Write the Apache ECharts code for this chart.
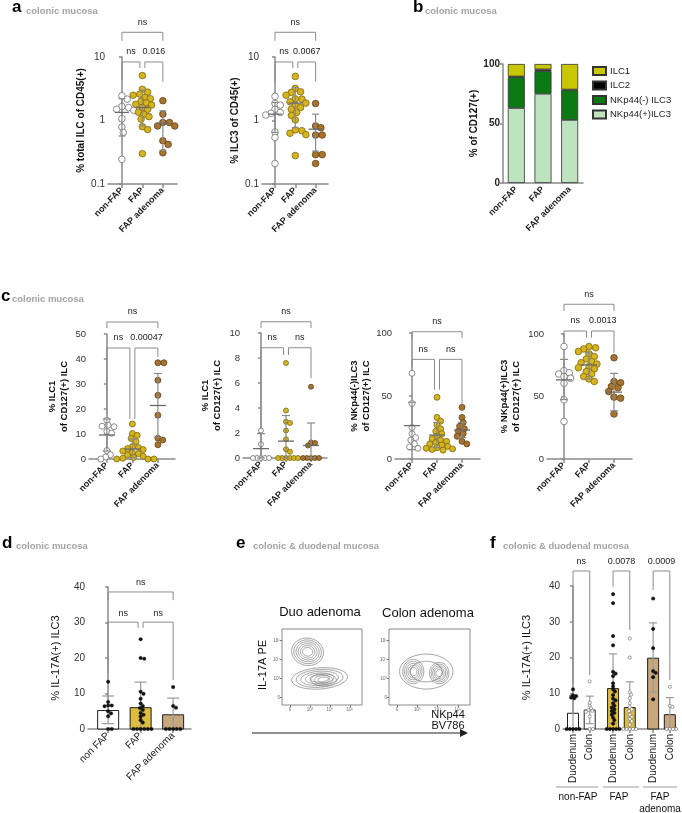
<!DOCTYPE html>
<html>
<head>
<meta charset="utf-8">
<script src="https://cdn.jsdelivr.net/npm/echarts@6/dist/echarts.min.js"></script>
<style>
  html, body { margin: 0; padding: 0; background: #fff; }
  #chart { width: 682px; height: 813px; }
</style>
</head>
<body>
<div id="chart"></div>
<script>
const FONT = 'Liberation Sans, Arial, sans-serif';
const AXIS = '#8a8a8a';

// ---------- categories ----------
const colonGroups = ['non-FAP', 'FAP', 'FAP adenoma'];
const il17Groups = ['non FAP', 'FAP', 'FAP adenoma'];
const siteCats = ['Duodenum', 'Colon', 'Duodenum', 'Colon', 'Duodenum', 'Colon'];
const ilcSubsets = ['ILC1', 'ILC2', 'NKp44(-) ILC3', 'NKp44(+)ILC3'];

// ---------- a: % total ILC of CD45(+) (log) ----------
const totalIlcNonFap = [2.45, 2.17, 1.66, 1.6, 1.5, 1.45, 1.07, 0.79, 0.65, 0.245];
const totalIlcFap = [5.1, 3.1, 2.8, 2.6, 2.5, 2.3, 2.2, 2.0, 1.9, 1.8, 1.75, 1.6, 1.5, 1.35, 1.25, 1.15, 1.05, 0.8, 0.72, 0.3];
const totalIlcAdenoma = [2.05, 1.26, 0.93, 0.93, 0.82, 0.82, 0.48, 0.42, 0.31];
const totalIlcStats = [[1.34, 0.57, 2.2], [1.6, 0.82, 3.0], [0.9, 0.34, 1.42]]; // mean, low, high
const totalIlcBrackets = [[0, 2, 24.5, 18, 18, 'ns'], [0, 1, 8.35, 4.4, 6.7, 'ns'], [1, 2, 8.35, 6.7, 4.1, '0.016']];

// ---------- a: % ILC3 of CD45(+) (log) ----------
const ilc3NonFap = [2.4, 1.85, 1.75, 1.5, 1.34, 1.3, 1.22, 0.66, 0.54, 0.21];
const ilc3Fap = [4.95, 3.2, 2.83, 2.77, 2.5, 2.2, 2.17, 1.97, 1.88, 1.75, 1.6, 1.5, 1.34, 1.2, 1.02, 0.71, 0.69, 0.63, 0.6, 0.28];
const ilc3Adenoma = [1.85, 0.82, 0.77, 0.59, 0.59, 0.29, 0.29, 0.21];
const ilc3Stats = [[1.26, 0.65, 1.92], [1.88, 0.77, 3.3], [0.73, 0.33, 1.26]];
const ilc3Brackets = [[0, 2, 24.5, 18, 18, 'ns'], [0, 1, 8.35, 4.1, 6.7, 'ns'], [1, 2, 8.35, 6.7, 4.1, '0.0067']];

// ---------- b: composition of CD127(+) ILC ----------
const compIlc1 = [10.5, 4.5, 21.5];
const compIlc2 = [0.5, 1.5, 0.5];
const compNkp44Neg = [26, 19, 25];
const compNkp44Pos = [63, 75, 53];

// ---------- c: subsets of CD127(+) ILC ----------
const ilc1NonFap = [15.5, 13.5, 13.1, 12.9, 11, 10.3, 3.4, 1.7, 0.8, 0];
const ilc1Fap = [14, 10.2, 9.5, 8.2, 7, 5, 4.6, 4.2, 3.8, 3.2, 2.6, 2.1, 1.6, 1.1, 0.6, 0.3, 0, 0, 0];
const ilc1Adenoma = [38.5, 38.5, 31.5, 25.5, 17.5, 8.3, 7.6, 5.7];
const ilc1Stats = [[9.6, 3.2, 16.0], [4.0, 0.5, 8.0], [21.4, 8.7, 34.2]];
const ilc1Brackets = [[0, 2, 54.8, 52.4, 52.4, 'ns'], [0, 1, 44.4, 18, 16, 'ns'], [1, 2, 44.4, 16, 40.8, '0.00047']];

const ilc1ZoomNonFap = [2.2, 1.1, 0, 0, 0, 0, 0];
const ilc1ZoomFap = [7.6, 3.8, 2.9, 2.8, 2.2, 1.5, 0.7, 0.5, 0, 0, 0, 0, 0, 0];
const ilc1ZoomAdenoma = [5.7, 1.25, 1.2, 1.0, 0, 0, 0, 0, 0];
const ilc1ZoomStats = [[0.75, 0, 1.95], [1.35, 0, 3.4], [1.0, 0, 2.8]];
const ilc1ZoomBrackets = [[0, 2, 10.9, 10.4, 10.4, 'ns'], [0, 1, 8.82, 2.3, 8.24, 'ns'], [1, 2, 8.82, 8.24, 6.4, 'ns']];

const nkNegNonFap = [68, 44, 25, 20, 17, 15, 12, 9.5, 8.5];
const nkNegFap = [49, 33, 30, 27, 24, 22, 20, 18, 16, 15, 14, 13, 12, 11, 10, 9, 8.5, 8, 7.5, 7];
const nkNegAdenoma = [41, 33, 29, 26, 24, 22, 20, 18, 14, 12];
const nkNegStats = [[26.5, 7.5, 45], [19, 9, 29], [23, 17, 29]];
const nkNegBrackets = [[0, 2, 101, 96, 96, 'ns'], [0, 1, 79.1, 73, 55, 'ns'], [1, 2, 79.1, 55, 43, 'ns']];

const nkPosNonFap = [90, 70.7, 69, 68, 66, 64.6, 60.6, 47.3, 30];
const nkPosFap = [90, 89, 88, 86, 84, 82, 80, 78, 77, 76, 74, 73, 72, 70, 68, 66, 64, 62];
const nkPosAdenoma = [81, 62, 61, 58, 57, 54, 49.5, 48.7, 36];
const nkPosStats = [[63.3, 47.5, 79.7], [75.3, 64, 85], [53.5, 38.5, 68.5]];
const nkPosBrackets = [[0, 2, 123.8, 118.4, 118.4, 'ns'], [0, 1, 102.4, 97, 97, 'ns'], [1, 2, 102.4, 97, 85, '0.0013']];

// ---------- d: % IL-17A(+) ILC3, colon ----------
const il17NonFap = [13.3, 7.6, 6.6, 6.6, 6.4, 5.0, 4.4, 3.6, 0, 0];
const il17Fap = [25.3, 20, 19.8, 10.5, 9.9, 8.5, 7.2, 6.5, 5.9, 5.4, 4.5, 4.0, 3.5, 2.5, 1.8, 0, 0, 0, 0, 0, 0];
const il17Adenoma = [11.8, 6.5, 6.0, 0, 0, 0, 0, 0];
const il17Stats = [[5.2, 1.5, 9.3], [6.0, 0, 13.2], [4.0, 0, 8.7]];
const il17Brackets = [[0, 2, 38.6, 36.3, 36.3, 'ns'], [0, 1, 30.1, 15.8, 28.5, 'ns'], [1, 2, 30.1, 28.5, 13.8, 'ns']];

// ---------- e: contour populations [cx, cy, rx, ry, tilt(deg), rings] ----------
const duoPopulations = [[32, 70, 20, 18, 10, 6], [47, 35, 35, 14, -4, 5], [52, 33, 16, 8, 0, 3]];
const colonPopulations = [[46, 44, 33, 23, 0, 2], [30, 44, 13, 16, 0, 5], [62, 42, 12, 14, 0, 5]];

// ---------- f: % IL-17A(+) ILC3, duodenum vs colon ----------
const siteNonFapDuo = [11.1, 9.4, 9.2, 8.8, 8.6, 0, 0, 0, 0, 0];
const siteNonFapColon = [13.3, 7.3, 6.5, 5.8, 5.3, 5.1, 4.8, 3.5, 0, 0];
const siteFapDuo = [37.7, 35.2, 26, 23.4, 16, 15.5, 14.8, 12.8, 11.9, 11.1, 10.5, 9.5, 8.5, 8, 7.2, 6.5, 6, 5.5, 5, 4.5, 4, 3.2, 2.5, 1.5, 0, 0, 0, 0, 0];
const siteFapColon = [25.3, 20, 10.3, 9.6, 8.6, 7.2, 6.1, 5.5, 5, 4, 3.4, 2.8, 2.2, 1.2, 0, 0, 0, 0, 0];
const siteAdnDuo = [36.5, 28, 22.6, 16.2, 15.7, 14.5, 8.3];
const siteAdnColon = [11.8, 6.5, 6.2, 0, 0, 0, 0];
const siteStats = [[4.4, 0, 9.4], [5.3, 1.5, 9.2], [11.3, 1.6, 21], [6.0, 0, 13.2], [19.8, 10.3, 29.7], [4.0, 0, 8.8]];
const siteBrackets = [[0, 1, 44.2, 12.9, 15.1, 'ns'], [2.4, 3.4, 44.2, 39.8, 27.7, '0.0078'], [4.8, 5.8, 44.2, 38.9, 13.7, '0.0009']];

// ---------- colours ----------
const DOT_FILL = ['#ffffff', '#d6b41e', '#a8732d'];
const DOT_EDGE = ['#6e6e6e', '#7d6812', '#63421a'];
const BAR_FILL = ['#ffffff', '#dcbd3f', '#c9a77c'];
const SITE_BAR_FILL = ['#ffffff', '#ffffff', '#dcbd3f', '#dcbd3f', '#c9a77c', '#c9a77c'];

const option = {
  animation: false,
  backgroundColor: '#ffffff',
  textStyle: { fontFamily: FONT },
  grid: [], xAxis: [], yAxis: [], series: [],
  graphic: []
};

function nearest(arr, v) {
  let best = 0;
  arr.forEach((a, k) => { if (Math.abs(a - v) < Math.abs(arr[best] - v)) best = k; });
  return best;
}

// simple beeswarm, offsets worked out in pixels then turned into axis units
function swarm(groups, xPos, p) {
  const pxX = p.rect[2] / (p.xMax - p.xMin);
  const h = p.rect[3];
  const toPx = v => p.log
    ? (Math.log10(v) - Math.log10(p.yMin)) / (Math.log10(p.yMax) - Math.log10(p.yMin)) * h
    : (v - p.yMin) / (p.yMax - p.yMin) * h;
  const out = [];
  groups.forEach((vals, g) => {
    const placed = [];
    const d = 2 * p.r * p.gap;
    const step = p.r * 0.4;
    vals.slice().sort((a, b) => b - a).forEach(v => {
      const py = toPx(v);
      let off = 0;
      for (let n = 0; n < 400; n++) {
        const cand = n === 0 ? 0 : Math.ceil(n / 2) * step * (n % 2 ? 1 : -1);
        if (placed.every(q => Math.hypot(q[0] - cand, q[1] - py) >= d)) { off = cand; break; }
      }
      placed.push([off, py]);
      out.push([xPos[g] + off / pxX, v, g]);
    });
  });
  return out;
}

function addPanel(p) {
  const i = option.grid.length;
  const [l, t, w, h] = p.rect;
  const line = { color: AXIS, width: 1.5 };
  option.grid.push({ left: l, top: t, width: w, height: h });
  option.xAxis.push({
    gridIndex: i, type: 'value', min: p.xMin, max: p.xMax,
    axisLine: { show: true, onZero: false, lineStyle: line },
    axisTick: { show: true, customValues: p.xPos, length: 4, lineStyle: line },
    axisLabel: {
      customValues: p.xPos, rotate: p.rotate, margin: p.labelMargin || 5,
      fontSize: p.xFont, fontWeight: p.xBold ? 'bold' : 'normal', color: '#1a1a1a',
      formatter: v => p.cats[nearest(p.xPos, v)]
    },
    splitLine: { show: false }
  });
  option.yAxis.push({
    gridIndex: i, type: p.log ? 'log' : 'value', logBase: 10,
    min: p.yMin, max: p.yMax, interval: p.log ? undefined : p.yInterval,
    name: p.yName, nameLocation: 'middle', nameGap: p.nameGap,
    nameTextStyle: { fontSize: p.nameSize, fontWeight: p.nameBold ? 'bold' : 'normal', color: '#111', lineHeight: p.nameSize + 2 },
    axisLine: { show: true, lineStyle: line },
    axisTick: { show: true, length: 3, lineStyle: line },
    axisLabel: { margin: 3, fontSize: p.yFont, color: '#333', fontWeight: p.yBold ? 'bold' : 'normal' },
    splitLine: { show: false }
  });

  if (p.bars) {
    option.series.push({
      type: 'custom', xAxisIndex: i, yAxisIndex: i, z: 1, silent: true, clip: false,
      data: p.stats.map((s, k) => [p.xPos[k], s[0], k]),
      encode: { x: 0, y: 1 },
      renderItem: (params, api) => {
        const base = api.coord([api.value(0), 0]);
        const top = api.coord([api.value(0), api.value(1)]);
        return {
          type: 'rect',
          shape: { x: base[0] - p.barWidth / 2, y: top[1], width: p.barWidth, height: base[1] - top[1] },
          style: { fill: p.barFill[api.value(2)], stroke: '#1e1e1e', lineWidth: 1 }
        };
      }
    });
  }

  // error bars (and mean line for dot plots)
  option.series.push({
    type: 'custom', xAxisIndex: i, yAxisIndex: i, z: p.bars ? 2 : 4, silent: true, clip: false,
    data: p.stats.map((s, k) => [p.xPos[k], s[0], s[1], s[2]]),
    encode: { x: 0, y: [1, 2, 3] },
    renderItem: (params, api) => {
      const x = api.value(0);
      const pm = api.coord([x, api.value(1)]);
      const pl = api.coord([x, api.value(2)]);
      const ph = api.coord([x, api.value(3)]);
      const st = { stroke: p.errColor, lineWidth: 1.2 };
      const cx = pm[0];
      const kids = [
        { type: 'line', shape: { x1: cx, y1: pl[1], x2: cx, y2: ph[1] }, style: st },
        { type: 'line', shape: { x1: cx - p.cap, y1: ph[1], x2: cx + p.cap, y2: ph[1] }, style: st },
        { type: 'line', shape: { x1: cx - p.cap, y1: pl[1], x2: cx + p.cap, y2: pl[1] }, style: st }
      ];
      if (p.meanHalf) {
        kids.push({ type: 'line', shape: { x1: cx - p.meanHalf, y1: pm[1], x2: cx + p.meanHalf, y2: pm[1] }, style: { stroke: '#6a6a6a', lineWidth: 1.3 } });
      }
      return { type: 'group', children: kids };
    }
  });

  // individual values
  option.series.push({
    type: 'custom', xAxisIndex: i, yAxisIndex: i, z: 3, silent: true, clip: false,
    data: swarm(p.groups, p.groupPos || p.xPos, p),
    encode: { x: 0, y: 1 },
    renderItem: (params, api) => {
      const c = api.coord([api.value(0), api.value(1)]);
      const g = api.value(2);
      return {
        type: 'circle', shape: { cx: c[0], cy: c[1], r: p.r },
        style: { fill: p.dotFill[g], stroke: p.dotEdge[g], lineWidth: p.dotLine }
      };
    }
  });

  // significance brackets
  const inner = p.inner || [];
  option.series.push({
    type: 'custom', xAxisIndex: i, yAxisIndex: i, z: 5, silent: true, clip: false,
    data: p.brackets.map(b => b.slice(0, 5)),
    encode: { x: [0, 1], y: [2, 3, 4] },
    renderItem: (params, api) => {
      const a = api.value(0), b = api.value(1);
      const pa = api.coord([a, api.value(2)]);
      const pb = api.coord([b, api.value(2)]);
      const la = api.coord([a, api.value(3)]);
      const lb = api.coord([b, api.value(4)]);
      let x1 = pa[0], x2 = pb[0];
      if (inner.indexOf(a) >= 0) x1 += 2.5;
      if (inner.indexOf(b) >= 0) x2 -= 2.5;
      return {
        type: 'group', children: [
          { type: 'polyline', shape: { points: [[x1, la[1]], [x1, pa[1]], [x2, pa[1]], [x2, lb[1]]] }, style: { stroke: '#8c8c8c', lineWidth: 1, fill: null } },
          { type: 'text', x: (x1 + x2) / 2, y: pa[1] - p.labelLift,
            style: { text: p.brackets[params.dataIndex][5], fill: '#222', font: '9px ' + FONT, align: 'center', verticalAlign: 'middle', textAlign: 'center', textVerticalAlign: 'middle' } }
        ]
      };
    }
  });
}

const dotDefaults = {
  xPos: [0, 1, 2], cats: colonGroups, rotate: 45, xFont: 9, xBold: true,
  yFont: 10, nameBold: true, nameSize: 10, errColor: '#8a8a8a', cap: 3.5, meanHalf: 7,
  dotFill: DOT_FILL, dotEdge: DOT_EDGE, dotLine: 0.8, gap: 0.82, inner: [1], labelLift: 10
};

// a
addPanel(Object.assign({}, dotDefaults, {
  rect: [108, 57, 69, 127], xMin: -0.68, xMax: 2.69, log: true, yMin: 0.1, yMax: 10,
  yName: '% total ILC of CD45(+)', nameGap: 21, r: 3.3,
  groups: [totalIlcNonFap, totalIlcFap, totalIlcAdenoma], stats: totalIlcStats, brackets: totalIlcBrackets
}));
addPanel(Object.assign({}, dotDefaults, {
  rect: [262, 57, 66, 127], xMin: -0.64, xMax: 2.61, log: true, yMin: 0.1, yMax: 10,
  yName: '% ILC3 of CD45(+)', nameGap: 21, r: 3.3,
  groups: [ilc3NonFap, ilc3Fap, ilc3Adenoma], stats: ilc3Stats, brackets: ilc3Brackets
}));

// c
const cDefaults = Object.assign({}, dotDefaults, { nameSize: 9.5, yFont: 9.5, meanHalf: 8, cap: 4, gap: 0.85 });
addPanel(Object.assign({}, cDefaults, {
  rect: [89, 334, 86, 125], xMin: -0.7, xMax: 2.67, yMin: 0, yMax: 50, yInterval: 10,
  yName: '% ILC1\nof CD127(+) ILC', nameGap: 19, r: 3,
  groups: [ilc1NonFap, ilc1Fap, ilc1Adenoma], stats: ilc1Stats, brackets: ilc1Brackets
}));
addPanel(Object.assign({}, cDefaults, {
  rect: [243, 333, 84, 125], xMin: -0.72, xMax: 2.64, yMin: 0, yMax: 10, yInterval: 2,
  yName: '% ILC1\nof CD127(+) ILC', nameGap: 20, r: 2.5, gap: 0.8,
  groups: [ilc1ZoomNonFap, ilc1ZoomFap, ilc1ZoomAdenoma], stats: ilc1ZoomStats, brackets: ilc1ZoomBrackets
}));
addPanel(Object.assign({}, cDefaults, {
  rect: [395, 333, 85, 126], xMin: -0.68, xMax: 2.72, yMin: 0, yMax: 100, yInterval: 50,
  yName: '% NKp44(-)ILC3\nof CD127(+) ILC', nameGap: 23, r: 3,
  groups: [nkNegNonFap, nkNegFap, nkNegAdenoma], stats: nkNegStats, brackets: nkNegBrackets
}));
addPanel(Object.assign({}, cDefaults, {
  rect: [547, 334, 85, 125], xMin: -0.68, xMax: 2.72, yMin: 0, yMax: 100, yInterval: 50,
  yName: '% NKp44(+)ILC3\nof CD127(+) ILC', nameGap: 25, r: 3.3,
  groups: [nkPosNonFap, nkPosFap, nkPosAdenoma], stats: nkPosStats, brackets: nkPosBrackets
}));

// d
addPanel(Object.assign({}, dotDefaults, {
  rect: [88, 587, 103, 142], xMin: -0.62, xMax: 2.55, yMin: 0, yMax: 40, yInterval: 10,
  cats: il17Groups, xFont: 10, xBold: false, nameBold: false, nameSize: 11,
  yName: '% IL-17A(+) ILC3', nameGap: 26, r: 1.8, gap: 0.85,
  bars: true, barWidth: 21, barFill: BAR_FILL, errColor: '#9a9a9a', cap: 6, meanHalf: 0,
  dotFill: ['#111', '#111', '#111'], dotEdge: ['#111', '#111', '#111'], dotLine: 0.3, labelLift: 9,
  groups: [il17NonFap, il17Fap, il17Adenoma], stats: il17Stats, brackets: il17Brackets
}));

// f
const sitePos = [0, 1, 2.4, 3.4, 4.8, 5.8];
addPanel(Object.assign({}, dotDefaults, {
  rect: [563, 586, 114, 143], xMin: -0.6, xMax: 6.23, yMin: 0, yMax: 40, yInterval: 10,
  xPos: sitePos, cats: siteCats, rotate: 90, xFont: 10, xBold: false, nameBold: false, nameSize: 11,
  yName: '% IL-17A(+) ILC3', nameGap: 30, r: 1.6, gap: 0.85, inner: [],
  bars: true, barWidth: 11, barFill: SITE_BAR_FILL, errColor: '#9a9a9a', cap: 4, meanHalf: 0,
  dotFill: ['#111', '#fff', '#111', '#fff', '#111', '#fff'], dotEdge: ['#111', '#777', '#111', '#777', '#111', '#777'],
  dotLine: 0.7, labelLift: 9,
  groups: [siteNonFapDuo, siteNonFapColon, siteFapDuo, siteFapColon, siteAdnDuo, siteAdnColon],
  stats: siteStats, brackets: siteBrackets
}));

// b: stacked composition
(function () {
  const i = option.grid.length;
  const line = { color: AXIS, width: 1.5 };
  option.grid.push({ left: 503, top: 64, width: 80, height: 119 });
  option.xAxis.push({
    gridIndex: i, type: 'category', data: colonGroups,
    axisLine: { lineStyle: line }, axisTick: { alignWithLabel: true, length: 4, lineStyle: line },
    axisLabel: { rotate: 45, margin: 5, fontSize: 9, fontWeight: 'bold', color: '#1a1a1a' }
  });
  option.yAxis.push({
    gridIndex: i, type: 'value', min: 0, max: 100, interval: 50,
    name: '% of CD127(+)', nameLocation: 'middle', nameGap: 23,
    nameTextStyle: { fontSize: 10, fontWeight: 'bold', color: '#111' },
    axisLine: { show: true, lineStyle: line }, axisTick: { show: true, length: 3, lineStyle: line },
    axisLabel: { margin: 3, fontSize: 10, fontWeight: 'bold', color: '#222' },
    splitLine: { show: false }
  });
  const stackParts = [
    [ilcSubsets[3], compNkp44Pos, '#bde4bf'],
    [ilcSubsets[2], compNkp44Neg, '#0b7a12'],
    [ilcSubsets[1], compIlc2, '#000000'],
    [ilcSubsets[0], compIlc1, '#c9c800']
  ];
  stackParts.forEach(([name, vals, col]) => {
    option.series.push({
      type: 'bar', name: name, stack: 'comp', xAxisIndex: i, yAxisIndex: i,
      data: vals, barWidth: 17,
      itemStyle: { color: col, borderColor: '#333', borderWidth: 0.8 }
    });
  });
  option.legend = {
    data: ilcSubsets, orient: 'vertical', left: 592, top: 66, padding: 0,
    itemWidth: 13, itemHeight: 8, itemGap: 4.5,
    icon: 'rect', textStyle: { fontSize: 9.5, color: '#222', padding: [0, 0, 0, -1] }, selectedMode: false
  };
})();

// e: contour plots
function addContour(rect, pops) {
  const i = option.grid.length;
  const tickPos = [10, 35, 60, 85];
  const tickTxt = ['0', '10³', '10⁴', '10⁵'];
  option.grid.push({ left: rect[0], top: rect[1], width: rect[2], height: rect[3], show: true, borderColor: '#8a8a8a', borderWidth: 1 });
  const ax = {
    gridIndex: i, type: 'value', min: 0, max: 100,
    axisLine: { show: false },
    axisTick: { show: true, customValues: tickPos, length: 2, lineStyle: { color: '#777' } },
    axisLabel: { customValues: tickPos, margin: 2, fontSize: 4.5, color: '#666', formatter: v => tickTxt[nearest(tickPos, v)] },
    splitLine: { show: false }
  };
  option.xAxis.push(Object.assign({}, ax));
  option.yAxis.push(Object.assign({}, ax));
  option.series.push({
    type: 'custom', xAxisIndex: i, yAxisIndex: i, silent: true, clip: true,
    data: pops,
    encode: { x: 0, y: 1 },
    renderItem: (params, api) => {
      const c = api.coord([api.value(0), api.value(1)]);
      const s = api.size([api.value(2), api.value(3)]);
      const tilt = api.value(4) * Math.PI / 180;
      const n = api.value(5);
      const kids = [];
      for (let k = 0; k < n; k++) {
        const f = 1 - k * (0.82 / n);
        const pts = [];
        for (let a = 0; a < 48; a++) {
          const t = a / 48 * Math.PI * 2;
          const ex = Math.cos(t) * s[0] * f, ey = Math.sin(t) * s[1] * f;
          pts.push([c[0] + ex * Math.cos(tilt) - ey * Math.sin(tilt), c[1] + ex * Math.sin(tilt) + ey * Math.cos(tilt)]);
        }
        kids.push({ type: 'polygon', shape: { points: pts }, style: { fill: null, stroke: '#6a6a6a', lineWidth: 0.6 } });
      }
      return { type: 'group', children: kids };
    }
  });
}
addContour([282, 629, 80, 76], duoPopulations);
addContour([389, 629, 81, 76], colonPopulations);

// panel letters, subtitles and free labels
function letter(ch, x, y) {
  return { type: 'text', x: x, y: y, style: { text: ch, font: 'bold 17px ' + FONT, fill: '#000', verticalAlign: 'bottom', textVerticalAlign: 'bottom' } };
}
function sub(txt, x, y) {
  return { type: 'text', x: x, y: y, style: { text: txt, font: 'bold 9.5px ' + FONT, fill: '#a3a3a3', verticalAlign: 'middle', textVerticalAlign: 'middle' } };
}
function label(txt, x, y, size, extra) {
  return Object.assign({ type: 'text', x: x, y: y, style: { text: txt, font: size + 'px ' + FONT, fill: '#111', align: 'center', verticalAlign: 'middle', textAlign: 'center', textVerticalAlign: 'middle' } }, extra || {});
}
option.graphic = [
  letter('a', 12, 16), sub('colonic mucosa', 26, 11),
  letter('b', 413, 16), sub('colonic mucosa', 425, 11),
  letter('c', 1, 305), sub('colonic mucosa', 12, 299),
  letter('d', 2, 552), sub('colonic mucosa', 16, 546),
  letter('e', 236, 552), sub('colonic & duodenal mucosa', 253, 546),
  letter('f', 490, 552), sub('colonic & duodenal mucosa', 503, 546),
  label('Duo adenoma', 320, 612, 13),
  label('Colon adenoma', 428, 613, 13),
  label('IL-17A PE', 263, 665, 11, { rotation: Math.PI / 2 }),
  label('NKp44', 448, 715, 11),
  label('BV786', 448, 726, 11),
  { type: 'line', shape: { x1: 252, y1: 733, x2: 462, y2: 733 }, style: { stroke: '#222', lineWidth: 1.2 } },
  { type: 'polygon', shape: { points: [[460, 729], [468, 733], [460, 737]] }, style: { fill: '#222' } },
  // group lines under panel f
  { type: 'line', shape: { x1: 556, y1: 787, x2: 598, y2: 787 }, style: { stroke: '#9a9a9a', lineWidth: 1.2 } },
  { type: 'line', shape: { x1: 603, y1: 787, x2: 639, y2: 787 }, style: { stroke: '#9a9a9a', lineWidth: 1.2 } },
  { type: 'line', shape: { x1: 643, y1: 787, x2: 677, y2: 787 }, style: { stroke: '#9a9a9a', lineWidth: 1.2 } },
  label('non-FAP', 578, 797, 10),
  label('FAP', 619, 797, 10),
  label('FAP', 660, 797, 10),
  label('adenoma', 660, 809, 10)
];

const chart = echarts.init(document.getElementById('chart'));
chart.setOption(option);
</script>
</body>
</html>
